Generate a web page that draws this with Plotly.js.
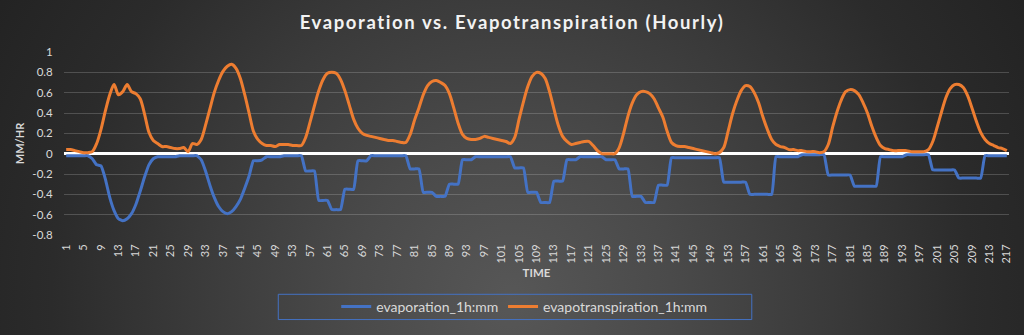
<!DOCTYPE html>
<html>
<head>
<meta charset="utf-8">
<script src="https://cdn.plot.ly/plotly-3.0.1.min.js"></script>
<style>
  html, body { margin: 0; padding: 0; }
  body {
    width: 1024px; height: 335px; overflow: hidden;
    background: radial-gradient(circle 640px at 512px 300px, #575757 0%, #4a4a4a 25%, #3a3a3a 50%, #2b2b2b 72%, #202020 100%);
  }
  #chart { width: 1024px; height: 335px; }
  .gtitle { letter-spacing: 1.6px; }
</style>
</head>
<body>
<div id="chart"></div>
<script>
const evaporation = [
  -0.02,-0.02,-0.02,-0.02,-0.02,-0.02,-0.05,-0.11,-0.12,-0.25,
  -0.43,-0.56,-0.64,-0.66,-0.64,-0.59,-0.50,-0.37,-0.23,-0.11,
  -0.05,-0.03,-0.03,-0.03,-0.03,-0.03,-0.02,-0.02,-0.02,-0.02,
  -0.02,-0.06,-0.17,-0.31,-0.43,-0.52,-0.57,-0.59,-0.57,-0.52,
  -0.45,-0.34,-0.22,-0.07,-0.07,-0.06,-0.03,-0.03,-0.03,-0.03,
  -0.02,-0.02,-0.02,-0.02,-0.02,-0.17,-0.17,-0.17,-0.46,-0.46,
  -0.46,-0.55,-0.55,-0.55,-0.35,-0.35,-0.35,-0.07,-0.07,-0.07,
  -0.02,-0.02,-0.02,-0.02,-0.02,-0.02,-0.02,-0.02,-0.02,-0.15,
  -0.15,-0.15,-0.38,-0.38,-0.38,-0.42,-0.42,-0.42,-0.30,-0.30,
  -0.30,-0.06,-0.06,-0.06,-0.03,-0.03,-0.03,-0.03,-0.03,-0.03,
  -0.03,-0.03,-0.03,-0.14,-0.14,-0.14,-0.38,-0.38,-0.38,-0.48,
  -0.48,-0.48,-0.27,-0.27,-0.27,-0.06,-0.06,-0.06,-0.03,-0.03,
  -0.03,-0.03,-0.03,-0.03,-0.06,-0.06,-0.06,-0.15,-0.15,-0.15,
  -0.42,-0.42,-0.42,-0.48,-0.48,-0.48,-0.31,-0.31,-0.31,-0.04,
  -0.04,-0.04,-0.04,-0.04,-0.04,-0.04,-0.04,-0.04,-0.04,-0.04,
  -0.04,-0.28,-0.28,-0.28,-0.28,-0.28,-0.28,-0.40,-0.40,-0.40,
  -0.40,-0.40,-0.40,-0.03,-0.03,-0.03,-0.03,-0.03,-0.03,-0.01,
  -0.01,-0.01,-0.01,-0.01,-0.01,-0.21,-0.21,-0.21,-0.21,-0.21,
  -0.21,-0.32,-0.32,-0.32,-0.32,-0.32,-0.32,-0.03,-0.03,-0.03,
  -0.03,-0.03,-0.03,-0.01,-0.01,-0.01,-0.01,-0.01,-0.01,-0.16,
  -0.16,-0.16,-0.16,-0.16,-0.16,-0.24,-0.24,-0.24,-0.24,-0.24,
  -0.24,-0.02,-0.02,-0.02,-0.02,-0.02,-0.02
];

const evapotranspiration = [
  0.04,0.04,0.03,0.02,0.01,0.01,0.02,0.10,0.24,0.42,
  0.58,0.68,0.58,0.61,0.68,0.61,0.59,0.54,0.39,0.21,
  0.13,0.10,0.07,0.07,0.06,0.05,0.05,0.06,0.02,0.10,
  0.09,0.14,0.28,0.44,0.60,0.72,0.81,0.86,0.88,0.84,
  0.74,0.58,0.40,0.22,0.14,0.10,0.08,0.08,0.07,0.09,
  0.09,0.09,0.08,0.08,0.08,0.16,0.31,0.47,0.62,0.73,
  0.79,0.80,0.79,0.73,0.62,0.48,0.34,0.25,0.20,0.18,
  0.17,0.16,0.15,0.14,0.13,0.13,0.12,0.11,0.11,0.19,
  0.33,0.45,0.58,0.67,0.71,0.72,0.70,0.67,0.59,0.45,
  0.30,0.19,0.15,0.14,0.14,0.15,0.17,0.16,0.15,0.14,
  0.13,0.12,0.10,0.16,0.34,0.51,0.66,0.76,0.80,0.79,
  0.74,0.61,0.44,0.28,0.17,0.12,0.09,0.10,0.11,0.12,
  0.12,0.08,0.03,0.00,0.00,0.00,0.00,0.06,0.20,0.37,
  0.50,0.58,0.61,0.61,0.59,0.54,0.45,0.36,0.22,0.11,
  0.08,0.07,0.07,0.06,0.05,0.04,0.03,0.02,0.01,0.00,
  0.01,0.06,0.22,0.39,0.52,0.62,0.67,0.66,0.60,0.50,
  0.36,0.24,0.14,0.09,0.07,0.06,0.04,0.04,0.03,0.03,
  0.02,0.02,0.02,0.01,0.02,0.09,0.26,0.41,0.53,0.61,
  0.63,0.62,0.58,0.50,0.40,0.27,0.16,0.08,0.05,0.04,
  0.03,0.03,0.03,0.03,0.02,0.02,0.02,0.02,0.04,0.12,
  0.26,0.41,0.55,0.64,0.68,0.68,0.65,0.57,0.45,0.32,
  0.21,0.14,0.10,0.08,0.06,0.05,0.03
];

const seriesNames = ['evaporation_1h:mm', 'evapotranspiration_1h:mm'];
const hours = evaporation.map((_, k) => k + 1);
const tickHours = hours.filter(h => (h - 1) % 4 === 0);
const yTicks = [-0.8, -0.6, -0.4, -0.2, 0, 0.2, 0.4, 0.6, 0.8, 1];
const yTickText = ['-0.8', '-0.6', '-0.4', '-0.2', '0', '0.2', '0.4', '0.6', '0.8', '1'];

const FONT = 'Lato, Open Sans, sans-serif';
const LABEL = '#d9d9d9';

const traces = [
  {
    x: hours, y: evaporation, name: seriesNames[0], type: 'scatter', mode: 'lines',
    legend: 'legend',
    line: { color: '#4472C4', width: 3, shape: 'spline', smoothing: 0.45 }
  },
  {
    x: hours, y: evapotranspiration, name: seriesNames[1], type: 'scatter', mode: 'lines',
    legend: 'legend2',
    line: { color: '#ED7D31', width: 3, shape: 'spline', smoothing: 0.8 }
  }
];

const px2x = p => (p - 63.5) / 946;
const px2y = p => (240 - p) / 188.3;
const legendStyle = {
  orientation: 'h', xanchor: 'left', yanchor: 'middle',
  y: px2y(314),
  font: { size: 14, color: LABEL, family: FONT },
  bgcolor: 'rgba(0,0,0,0)', borderwidth: 0
};

const layout = {
  width: 1024, height: 335,
  margin: { l: 63.5, r: 14.5, t: 51.7, b: 95 },
  paper_bgcolor: 'rgba(0,0,0,0)',
  plot_bgcolor: 'rgba(0,0,0,0)',
  font: { family: FONT, color: LABEL },
  title: {
    text: 'Evaporation vs. Evapotranspiration (Hourly)',
    font: { family: FONT, size: 18.5, color: '#f2f2f2', weight: 'bold' },
    xref: 'container', x: 0.5, xanchor: 'center',
    yref: 'container', y: 1 - 23 / 335, yanchor: 'middle'
  },
  xaxis: {
    range: [0.5, hours.length + 0.5],
    tickmode: 'array', tickvals: tickHours, ticktext: tickHours.map(String),
    tickangle: -90, tickfont: { size: 11, color: LABEL, family: FONT },
    ticks: 'outside', ticklen: 4, tickcolor: 'rgba(0,0,0,0)',
    showgrid: false, zeroline: false, showline: false,
    title: { text: 'TIME', font: { size: 11.5, color: LABEL, family: FONT, weight: 'bold' }, standoff: 6 }
  },
  yaxis: {
    range: [-0.8, 1],
    tickmode: 'array', tickvals: yTicks, ticktext: yTickText,
    tickfont: { size: 11.5, color: LABEL, family: FONT },
    ticks: 'outside', ticklen: 8, tickcolor: 'rgba(0,0,0,0)',
    showgrid: true, gridcolor: 'rgba(217,217,217,0.22)', gridwidth: 1,
    zeroline: true, zerolinecolor: '#ffffff', zerolinewidth: 3,
    showline: false,
    title: { text: 'MM/HR', font: { size: 11, color: LABEL, family: FONT, weight: 'bold' }, standoff: 5 }
  },
  showlegend: true,
  legend: Object.assign({}, legendStyle, { x: px2x(336) }),
  legend2: Object.assign({}, legendStyle, { x: px2x(503) }),
  shapes: [
    {
      type: 'rect', xref: 'paper', yref: 'paper',
      x0: px2x(278), x1: px2x(752),
      y0: px2y(327), y1: px2y(301),
      line: { color: '#4472C4', width: 1 }, fillcolor: 'rgba(0,0,0,0)'
    }
  ]
};

Plotly.newPlot('chart', traces, layout, { displayModeBar: false, responsive: false, staticPlot: true });
</script>
</body>
</html>
